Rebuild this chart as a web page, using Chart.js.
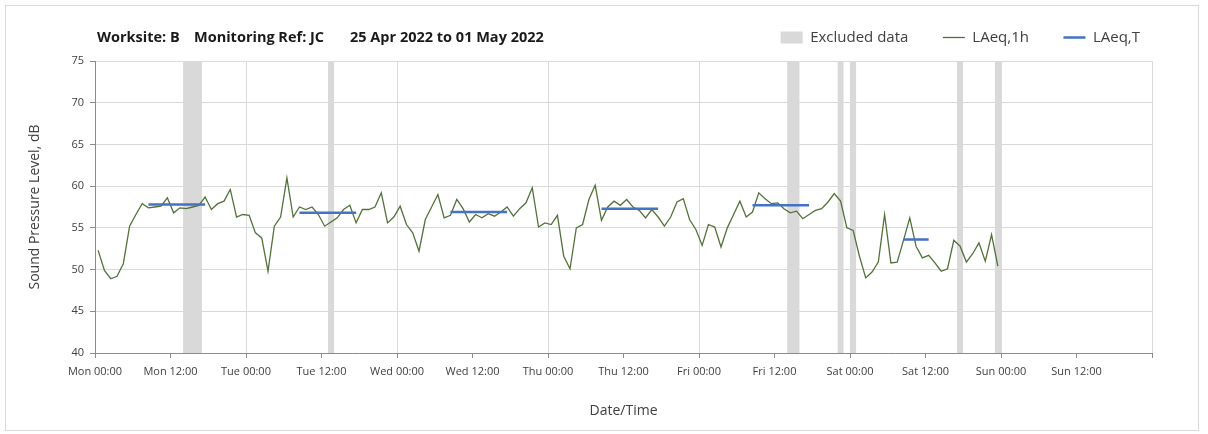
<!DOCTYPE html>
<html>
<head>
<meta charset="utf-8">
<script src="https://cdn.jsdelivr.net/npm/chart.js@4.4.1/dist/chart.umd.min.js"></script>
<style>
  body { margin: 0; background: #fff; font-family: "Open Sans", sans-serif; }
  #wrap { position: relative; width: 1208px; height: 434px; }
  #frame { position: absolute; left: 5px; top: 5px; width: 1192px; height: 424px; border: 1px solid #d9d9d9; }
  .ttl { position: absolute; top: 27px; font-weight: bold; font-size: 14.5px; color: #1a1a1a; white-space: pre; }
</style>
</head>
<body>
<div id="wrap">
  <div id="frame"></div>
  <canvas id="myChart" width="1208" height="434"></canvas>
  <span class="ttl" style="left:97px">Worksite: B</span>
  <span class="ttl" style="left:194px">Monitoring Ref: JC</span>
  <span class="ttl" style="left:350px">25 Apr 2022 to 01 May 2022</span>
</div>
<script>
// hourly values, Mon 25 Apr 00:00 onwards (one per hour)
var laeq1h = [
  52.3, 49.9, 48.9, 49.2, 50.7, 55.2, 56.6, 57.9, 57.4, 57.5, 57.6, 58.6,
  56.8, 57.4, 57.3, 57.5, 57.7, 58.7, 57.2, 57.9, 58.2, 59.6, 56.3, 56.6,
  56.5, 54.4, 53.8, 49.8, 55.2, 56.3, 61.0, 56.3, 57.5, 57.2, 57.5, 56.6,
  55.2, 55.7, 56.2, 57.2, 57.7, 55.6, 57.2, 57.2, 57.5, 59.2, 55.6, 56.3,
  57.6, 55.4, 54.4, 52.2, 56.0, 57.5, 59.0, 56.2, 56.5, 58.4, 57.3, 55.7,
  56.6, 56.2, 56.7, 56.4, 56.9, 57.5, 56.4, 57.3, 58.0, 59.8, 55.1, 55.6,
  55.4, 56.5, 51.6, 50.1, 55.0, 55.4, 58.4, 60.1, 55.9, 57.5, 58.2, 57.7,
  58.4, 57.5, 57.1, 56.2, 57.2, 56.3, 55.2, 56.3, 58.1, 58.5, 56.0, 54.8,
  52.9, 55.4, 55.1, 52.7, 55.0, 56.6, 58.2, 56.3, 56.9, 59.2, 58.5, 57.9,
  58.0, 57.3, 56.8, 57.0, 56.1, 56.6, 57.1, 57.3, 58.1, 59.1, 58.2, 55.0,
  54.7, 51.6, 49.0, 49.7, 50.9, 56.6, 50.8, 50.9, 53.5, 56.2, 52.8, 51.4,
  51.7, 50.8, 49.8, 50.1, 53.5, 52.8, 50.9, 51.9, 53.2, 51.0, 54.2, 50.4
];

// LAeq,T periods (hours from Mon 00:00)
var tStart = [8.5, 32.5, 56.5, 80.5, 104.5, 128.5];
var tEnd   = [17.5, 41.5, 65.5, 89.5, 113.5, 132.5];
var tValue = [57.8, 56.8, 56.9, 57.3, 57.7, 53.6];

// excluded data periods (hours from Mon 00:00)
var exStart = [14, 37, 110, 118, 120, 137, 143];
var exEnd   = [17, 38, 112, 119, 121, 138, 144];

var dayNames = ['Mon', 'Tue', 'Wed', 'Thu', 'Fri', 'Sat', 'Sun'];

var linePts = [];
for (var i in laeq1h) {
  linePts.push({x: Number(i) + 0.5, y: laeq1h[i]});
}
var tPts = [];
for (var j in tValue) {
  tPts.push({x: tStart[j], y: tValue[j]});
  tPts.push({x: tEnd[j], y: tValue[j]});
  tPts.push({x: tEnd[j], y: null});
}
var exPts = [];
for (var k in exStart) {
  exPts.push({x: exStart[k], y: 75});
  exPts.push({x: exEnd[k], y: 75});
  exPts.push({x: exEnd[k], y: null});
}

// a bit more room under the legend row
var legendGap = {
  id: 'legendGap',
  afterInit: function(chart) {
    var fit = chart.legend.fit;
    chart.legend.fit = function() {
      fit.call(this);
      this.height += 6;
    };
  }
};

var tickFont = {family: 'Open Sans', size: 11};
var ctx = document.getElementById('myChart').getContext('2d');
var chart = new Chart(ctx, {
  type: 'line',
  data: {
    datasets: [
      {
        label: 'Excluded data',
        data: exPts,
        borderWidth: 0,
        borderColor: 'rgba(0,0,0,0)',
        backgroundColor: '#d9d9d9',
        fill: 'start',
        pointRadius: 0,
        pointStyle: 'rect',
        spanGaps: false,
        order: 3
      },
      {
        label: 'LAeq,1h',
        data: linePts,
        borderColor: '#52723a',
        backgroundColor: '#52723a',
        borderWidth: 1.3,
        pointRadius: 0,
        pointStyle: 'line',
        tension: 0,
        order: 2
      },
      {
        label: 'LAeq,T',
        data: tPts,
        borderColor: '#4472c4',
        backgroundColor: '#4472c4',
        borderWidth: 2.5,
        pointRadius: 0,
        pointStyle: 'line',
        spanGaps: false,
        order: 1
      }
    ]
  },
  plugins: [legendGap],
  options: {
    responsive: false,
    animation: false,
    layout: {padding: {left: 10, right: 56, top: 18, bottom: 11}},
    plugins: {
      tooltip: {enabled: false},
      legend: {
        position: 'top',
        align: 'end',
        labels: {
          usePointStyle: true,
          pointStyleWidth: 22,
          boxHeight: 12,
          padding: 12,
          color: '#404040',
          font: {family: 'Open Sans', size: 15},
          sort: function(a, b) { return a.datasetIndex - b.datasetIndex; },
          generateLabels: function(chart) {
            var items = Chart.defaults.plugins.legend.labels.generateLabels(chart);
            items.forEach(function(it) {
              if (it.datasetIndex < 2) it.text = it.text + '\u2003\u2002';
            });
            return items;
          }
        }
      }
    },
    scales: {
      x: {
        type: 'linear',
        min: 0,
        max: 168,
        afterFit: function(scale) { scale.height = 70; },
        ticks: {
          stepSize: 12,
          autoSkip: false,
          maxRotation: 0,
          padding: 7,
          color: '#404040',
          font: tickFont,
          callback: function(v) {
            if (v >= 168) return '';
            return dayNames[Math.floor(v / 24)] + (v % 24 ? ' 12:00' : ' 00:00');
          }
        },
        grid: {
          color: function(c) { return c.tick && c.tick.value % 24 === 0 ? '#d9d9d9' : 'rgba(0,0,0,0)'; },
          tickColor: '#8c8c8c',
          tickLength: 5,
          lineWidth: 1
        },
        border: {color: '#8c8c8c'},
        title: {
          display: true,
          text: 'Date/Time',
          color: '#404040',
          font: {family: 'Open Sans', size: 14},
          padding: {top: 0, bottom: 4}
        }
      },
      y: {
        min: 40,
        max: 75,
        afterFit: function(scale) { scale.width = 85; },
        ticks: {stepSize: 5, padding: 6, color: '#404040', font: tickFont},
        grid: {color: '#d9d9d9', tickColor: '#8c8c8c', tickLength: 5},
        border: {color: '#8c8c8c'},
        title: {
          display: true,
          text: 'Sound Pressure Level, dB',
          color: '#404040',
          font: {family: 'Open Sans', size: 14},
          padding: {top: 17, bottom: 0}
        }
      }
    }
  }
});
</script>
</body>
</html>
